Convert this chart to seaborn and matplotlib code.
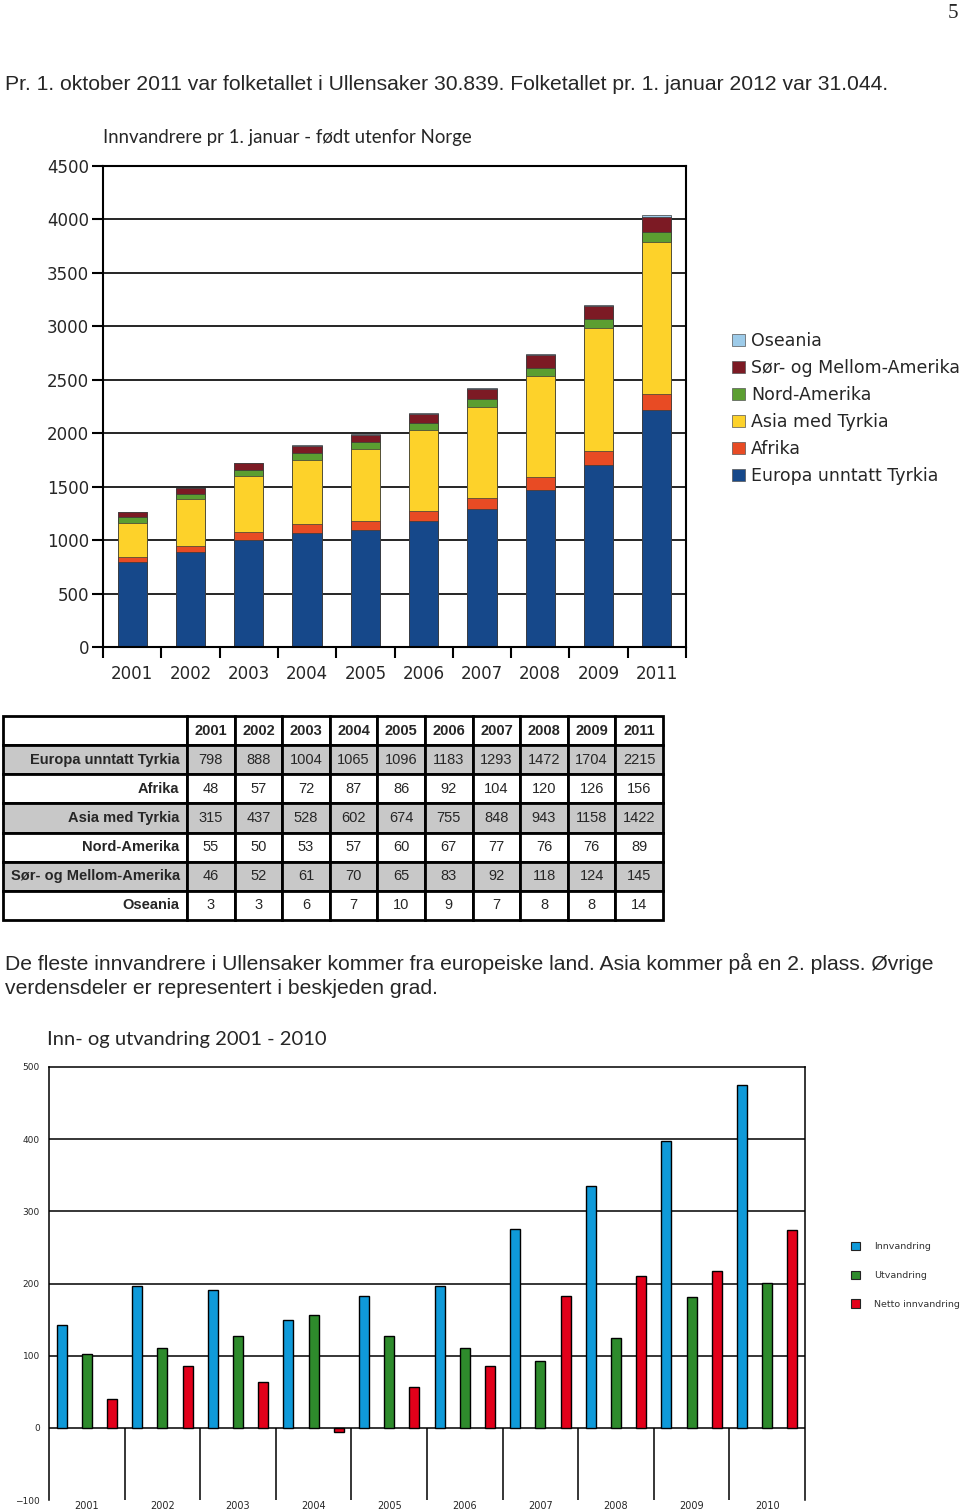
import numpy as np
import pandas as pd
import matplotlib
matplotlib.use("Agg")
import matplotlib.pyplot as plt
from matplotlib.patches import Patch
import seaborn as sns

# --- Innvandrere pr 1. januar (fra tabellen) ---
years = ['2001', '2002', '2003', '2004', '2005', '2006', '2007', '2008', '2009', '2011']
regions = ['Europa unntatt Tyrkia', 'Afrika', 'Asia med Tyrkia', 'Nord-Amerika',
           'Sør- og Mellom-Amerika', 'Oseania']
europa = [798, 888, 1004, 1065, 1096, 1183, 1293, 1472, 1704, 2215]
afrika = [48, 57, 72, 87, 86, 92, 104, 120, 126, 156]
asia = [315, 437, 528, 602, 674, 755, 848, 943, 1158, 1422]
nord_amerika = [55, 50, 53, 57, 60, 67, 77, 76, 76, 89]
sor_amerika = [46, 52, 61, 70, 65, 83, 92, 118, 124, 145]
oseania = [3, 3, 6, 7, 10, 9, 7, 8, 8, 14]
region_colors = ['#16488a', '#e84b24', '#fdd22a', '#5b9e31', '#7c1a24', '#9dcbe9']

# --- Inn- og utvandring 2001 - 2010 (lest av figuren) ---
mig_years = ['2001', '2002', '2003', '2004', '2005', '2006', '2007', '2008', '2009', '2010']
mig_types = ['Innvandring', 'Utvandring', 'Netto innvandring']
innvandring = [142, 196, 191, 150, 183, 197, 275, 335, 398, 475]
utvandring = [102, 111, 127, 156, 127, 111, 92, 125, 181, 201]
netto = [40, 85, 64, -6, 56, 86, 183, 210, 217, 274]
mig_colors = ['#0f9ad9', '#2e8b2c', '#e2001a']

line1 = 'Pr. 1. oktober 2011 var folketallet i Ullensaker 30.839. Folketallet pr. 1. januar 2012 var 31.044.'
para = ['De fleste innvandrere i Ullensaker kommer fra europeiske land. Asia kommer på en 2. plass. Øvrige',
        'verdensdeler er representert i beskjeden grad.']

sns.set_style('white')
plt.rcParams['font.family'] = ['DejaVu Sans']

W, H = 960, 1511
fig = plt.figure(figsize=(W / 100, H / 100), dpi=100)


def fx(px):
    return px / W


def fy(py):
    return 1 - py / H


# page text
fig.text(fx(953), fy(14), '5', family='Liberation Serif', fontsize=15, ha='center', va='center')
fig.text(fx(5), fy(84), line1, family='Liberation Sans', fontsize=15.2, va='center')
fig.text(fx(5), fy(963), para[0], family='Liberation Sans', fontsize=15.2, va='center')
fig.text(fx(5), fy(988), para[1], family='Liberation Sans', fontsize=15.2, va='center')

# ---------------- chart 1: stacked bars ----------------
ax1 = fig.add_axes([fx(103), fy(647), fx(686) - fx(103), (647 - 166) / H])
counts = np.array([europa, afrika, asia, nord_amerika, sor_amerika, oseania])
tops = counts.cumsum(axis=0)
for i in reversed(range(len(regions))):
    sns.barplot(x=years, y=tops[i], color=region_colors[i], width=0.5, saturation=1,
                edgecolor='#3a3a3a', linewidth=0.5, errorbar=None, ax=ax1)
ax1.set_xlim(-0.5, 9.5)
ax1.set_ylim(0, 4500)
ax1.set_yticks(range(0, 4501, 500))
ax1.yaxis.grid(True, color='black', linewidth=1.2)
ax1.set_axisbelow(True)
ax1.set_xticks(np.arange(-0.5, 10, 1), minor=True)
ax1.tick_params(axis='x', which='major', bottom=True, length=0, pad=13, labelsize=12)
ax1.tick_params(axis='x', which='minor', bottom=True, length=8, width=1.5, color='black', direction='out')
ax1.tick_params(axis='y', left=True, length=8, width=1.5, color='black', direction='out', pad=2, labelsize=12)
for s in ax1.spines.values():
    s.set_visible(True)
    s.set_color('black')
    s.set_linewidth(1.5)
ax1.set_xlabel('')
ax1.set_ylabel('')
fig.text(fx(103), fy(138), 'Innvandrere pr 1. januar - født utenfor Norge', family='Lato',
         fontsize=13.4, va='center')

handles1 = [Patch(facecolor=c, edgecolor='#555555', linewidth=0.5, label=r)
            for r, c in zip(regions, region_colors)][::-1]
fig.legend(handles=handles1, loc='upper left', bbox_to_anchor=(fx(732), fy(332)), frameon=False,
           fontsize=12.5, handlelength=0.75, handleheight=0.75, handletextpad=0.35,
           labelspacing=0.52, borderpad=0, borderaxespad=0)

# ---------------- table ----------------
axt = fig.add_axes([fx(3), fy(920), fx(663) - fx(3), (920 - 716) / H])
axt.axis('off')
cell_text = [[''] + years]
for r, vals in zip(regions, counts):
    cell_text.append([r] + [str(v) for v in vals])
grey = '#c8c8c8'
cell_colors = [['white'] * 11]
for k in range(len(regions)):
    cell_colors.append([grey if k % 2 == 0 else 'white'] * 11)
first_w = 184 / 660
col_w = [first_w] + [(1 - first_w) / 10] * 10
tbl = axt.table(cellText=cell_text, cellColours=cell_colors, colWidths=col_w,
                cellLoc='center', bbox=[0, 0, 1, 1])
tbl.auto_set_font_size(False)
for (row, col), cell in tbl.get_celld().items():
    cell.set_linewidth(2)
    cell.set_edgecolor('black')
    bold = row == 0 or col == 0
    cell.set_text_props(family='Liberation Sans', fontsize=10.5,
                        fontweight='bold' if bold else 'normal')
    if col == 0:
        cell.set_text_props(ha='right')
        cell.PAD = 0.04

# ---------------- chart 2: grouped bars ----------------
mig = pd.DataFrame({
    'år': mig_years * 3,
    'type': [t for t in mig_types for _ in mig_years],
    'antall': innvandring + utvandring + netto,
})
ax2 = fig.add_axes([fx(49), fy(1500), fx(805) - fx(49), (1500 - 1067) / H])
sns.barplot(data=mig, x='år', y='antall', hue='type', hue_order=mig_types, palette=mig_colors,
            width=1.0, gap=0.6, saturation=1, edgecolor='black', linewidth=1,
            errorbar=None, legend=False, ax=ax2)
ax2.set_xlim(-0.5, 9.5)
ax2.set_ylim(-100, 500)
ax2.set_yticks(range(-100, 501, 100))
for yv in range(0, 500, 100):
    ax2.axhline(yv, color='black', linewidth=1.1, zorder=0.5)
ax2.vlines(np.arange(0.5, 9.5, 1), -100, 0, color='black', linewidth=1.1)
ax2.tick_params(axis='x', length=0, pad=1, labelsize=7)
ax2.tick_params(axis='y', length=0, pad=6.5, labelsize=6.5)
for name, s in ax2.spines.items():
    s.set_visible(name != 'bottom')
    s.set_color('black')
    s.set_linewidth(1.1)
ax2.set_xlabel('')
ax2.set_ylabel('')
fig.text(fx(47), fy(1040), 'Inn- og utvandring 2001 - 2010', family='Lato', fontsize=14.5, va='center')

handles2 = [Patch(facecolor=c, edgecolor='#222222', linewidth=0.8, label=t)
            for t, c in zip(mig_types, mig_colors)]
fig.legend(handles=handles2, loc='upper left', bbox_to_anchor=(fx(851), fy(1242)), frameon=False,
           fontsize=6.8, labelcolor='#333333', handlelength=0.95, handleheight=0.95,
           handletextpad=1.45, labelspacing=2.05, borderpad=0, borderaxespad=0)

fig.savefig('out.png', dpi=100)
